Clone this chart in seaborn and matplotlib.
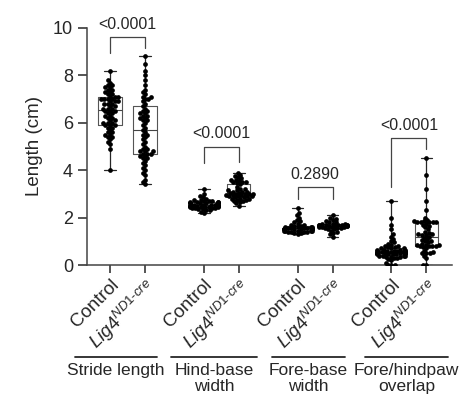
import numpy as np
import pandas as pd
import matplotlib
matplotlib.use("Agg")
import matplotlib.pyplot as plt
import matplotlib.transforms as mtransforms
import seaborn as sns

# ---------------- data ----------------
measures = ["Stride length", "Hind-base\nwidth", "Fore-base\nwidth", "Fore/hindpaw\noverlap"]
genotypes = ["Control", "Lig4"]
tick_labels = ["Control", r"$\mathit{Lig4}^{\mathit{ND1\text{-}cre}}$"] * 4
p_values = ["<0.0001", "<0.0001", "0.2890", "<0.0001"]

stride_ctrl = [4.0, 4.9, 5.1, 5.2, 5.3, 5.4, 5.4, 5.5, 5.5, 5.6, 5.6, 5.7, 5.8, 5.8, 5.9, 5.9, 5.9,
               6.0, 6.0, 6.0, 6.1, 6.1, 6.2, 6.2, 6.3, 6.3, 6.4, 6.4, 6.5, 6.5, 6.5, 6.6, 6.6, 6.6,
               6.7, 6.7, 6.8, 6.8, 6.8, 6.9, 6.9, 6.9, 7.0, 7.0, 7.0, 7.0, 7.1, 7.1, 7.1, 7.2, 7.2,
               7.3, 7.3, 7.4, 7.4, 7.5, 7.5, 7.6, 7.6, 7.7, 7.8, 8.2]
stride_lig4 = [3.4, 3.5, 3.6, 3.8, 3.9, 4.0, 4.1, 4.2, 4.3, 4.4, 4.5, 4.5, 4.6, 4.6, 4.7, 4.7, 4.7,
               4.8, 4.8, 4.8, 4.9, 4.9, 5.0, 5.1, 5.2, 5.3, 5.4, 5.5, 5.5, 5.6, 5.7, 5.8, 5.9, 6.0,
               6.1, 6.1, 6.2, 6.2, 6.3, 6.3, 6.4, 6.4, 6.5, 6.5, 6.6, 6.7, 6.8, 6.9, 7.0, 7.0, 7.1,
               7.1, 7.2, 7.3, 7.4, 7.6, 7.8, 8.0, 8.2, 8.5, 8.8]
hind_ctrl = [2.2, 2.25, 2.3, 2.3, 2.35, 2.35, 2.4, 2.4, 2.4, 2.4, 2.45, 2.45, 2.45, 2.45, 2.45,
             2.5, 2.5, 2.5, 2.5, 2.5, 2.5, 2.5, 2.55, 2.55, 2.55, 2.55, 2.55, 2.55, 2.6, 2.6, 2.6,
             2.6, 2.6, 2.6, 2.65, 2.65, 2.65, 2.65, 2.7, 2.7, 2.7, 2.75, 2.75, 2.8, 2.85, 2.9, 3.0, 3.2]
hind_lig4 = [2.5, 2.6, 2.65, 2.7, 2.7, 2.75, 2.75, 2.8, 2.8, 2.8, 2.85, 2.85, 2.9, 2.9, 2.9, 2.9,
             2.95, 2.95, 2.95, 3.0, 3.0, 3.0, 3.0, 3.05, 3.05, 3.1, 3.1, 3.1, 3.15, 3.15, 3.2, 3.2,
             3.3, 3.4, 3.45, 3.5, 3.5, 3.5, 3.55, 3.6, 3.6, 3.65, 3.7, 3.75, 3.8, 3.9]
fore_ctrl = [1.3, 1.35, 1.35, 1.4, 1.4, 1.4, 1.4, 1.45, 1.45, 1.45, 1.45, 1.45, 1.5, 1.5, 1.5, 1.5,
             1.5, 1.5, 1.5, 1.5, 1.55, 1.55, 1.55, 1.55, 1.55, 1.6, 1.6, 1.6, 1.6, 1.65, 1.65,
             1.7, 1.7, 1.75, 1.8, 1.85, 1.9, 2.0, 2.1, 2.2, 2.4]
fore_lig4 = [1.2, 1.3, 1.35, 1.4, 1.45, 1.5, 1.5, 1.55, 1.55, 1.55, 1.6, 1.6, 1.6, 1.6, 1.65, 1.65,
             1.65, 1.65, 1.65, 1.7, 1.7, 1.7, 1.7, 1.7, 1.7, 1.7, 1.75, 1.75, 1.75, 1.8, 1.8, 1.85,
             1.9, 1.95, 2.0, 2.1]
overlap_ctrl = [0.0, 0.0, 0.0, 0.1, 0.2, 0.25, 0.3, 0.3, 0.35, 0.35, 0.35, 0.4, 0.4, 0.4, 0.4,
                0.45, 0.45, 0.45, 0.45, 0.45, 0.5, 0.5, 0.5, 0.5, 0.5, 0.5, 0.5, 0.55, 0.55, 0.55,
                0.55, 0.55, 0.55, 0.6, 0.6, 0.6, 0.6, 0.6, 0.65, 0.65, 0.65, 0.65, 0.7, 0.7, 0.7,
                0.75, 0.75, 0.8, 0.8, 0.85, 0.9, 0.95, 1.0, 1.1, 1.2, 1.3, 1.5, 1.7, 2.0, 2.7]
overlap_lig4 = [0.0, 0.0, 0.3, 0.4, 0.5, 0.5, 0.5, 0.55, 0.6, 0.7, 0.75, 0.8, 0.8, 0.8, 0.8, 0.85,
                0.85, 0.85, 0.9, 0.95, 1.0, 1.0, 1.05, 1.1, 1.15, 1.2, 1.25, 1.25, 1.3, 1.3, 1.35,
                1.4, 1.5, 1.6, 1.65, 1.7, 1.75, 1.8, 1.8, 1.8, 1.8, 1.8, 1.85, 1.85, 1.9, 2.0, 2.3,
                2.7, 3.2, 3.8, 4.5]

series = [stride_ctrl, stride_lig4, hind_ctrl, hind_lig4,
          fore_ctrl, fore_lig4, overlap_ctrl, overlap_lig4]

# ---------------- layout ----------------
group_gap = 2.68
positions = []
for g in range(4):
    positions += [g * group_gap, g * group_gap + 1]

rows = []
for pos, vals in zip(positions, series):
    for v in vals:
        rows.append({"x": pos, "y": v})
df = pd.DataFrame(rows)

sns.set_style("ticks")
plt.rcParams["font.family"] = ["Liberation Sans", "DejaVu Sans"]
plt.rcParams["mathtext.fontset"] = "custom"
plt.rcParams["mathtext.rm"] = "Liberation Sans"
plt.rcParams["mathtext.it"] = "Liberation Sans:italic"

ink = "#262626"
fig = plt.figure(figsize=(4.69, 4.03), dpi=100)
ax = fig.add_axes([87 / 469, 1 - 265 / 403, (452 - 87) / 469, (265 - 28) / 403])

sns.boxplot(data=df, x="x", y="y", native_scale=True, width=0.66, whis=(0, 100),
            fill=False, color="#555555", linewidth=0.8, showfliers=False, ax=ax,
            medianprops=dict(color="#444444", linewidth=0.8),
            whiskerprops=dict(color=ink, linewidth=0.9),
            capprops=dict(color=ink, linewidth=0.9))
n_before = len(ax.collections)
sns.swarmplot(data=df, x="x", y="y", native_scale=True, color="black", size=2.35,
              linewidth=0, ax=ax)
swarms = ax.collections[n_before:]
for c in swarms:
    c.set_zorder(3)

ax.set_xlim(-0.657, 9.77)
ax.set_ylim(0, 10)
ax.set_yticks([0, 2, 4, 6, 8, 10])
ax.set_xticks(positions)
ax.set_xticklabels(tick_labels, rotation=45, ha="right", va="top",
                   rotation_mode="anchor", fontsize=13.5, color=ink)
offset = mtransforms.ScaledTranslation(5 / 100, 2 / 100, fig.dpi_scale_trans)
for lab in ax.get_xticklabels():
    lab.set_transform(lab.get_transform() + offset)
ax.tick_params(axis="y", labelsize=13, colors=ink, length=6.5, width=1.1)
ax.tick_params(axis="x", length=5.5, width=1.1, colors=ink, pad=2.5)
for lab in ax.get_xticklabels() + ax.get_yticklabels():
    lab.set_color(ink)
ax.set_xlabel("")
ax.set_ylabel("Length (cm)", fontsize=13.5, color=ink, labelpad=7)
for s in ["top", "right"]:
    ax.spines[s].set_visible(False)
for s in ["left", "bottom"]:
    ax.spines[s].set_linewidth(1.1)
    ax.spines[s].set_color("#444444")

# significance brackets
bracket_top = [9.6, 5.0, 3.3, 5.35]
leg_left = [8.95, 4.3, 2.8, 3.3]
leg_right = [9.15, 4.35, 2.8, 4.9]
for g in range(4):
    x0, x1 = positions[2 * g], positions[2 * g + 1]
    ax.plot([x0, x0, x1, x1], [leg_left[g], bracket_top[g], bracket_top[g], leg_right[g]],
            color="#444444", linewidth=0.9, clip_on=False)
    ax.text((x0 + x1) / 2, bracket_top[g] + 0.22, p_values[g], ha="center", va="bottom",
            fontsize=11.5, color=ink, clip_on=False)

# group labels under axis
trans = ax.get_xaxis_transform()
line_y = (265 - 357) / 237
group_extent = [(-1.0, 1.34), (1.74, 4.2), (4.63, 6.71), (7.29, 9.66)]
for g in range(4):
    a, b = group_extent[g]
    ax.plot([a, b], [line_y, line_y], transform=trans, color=ink, linewidth=1.3,
            clip_on=False)
    ax.text((a + b) / 2, line_y - 0.025, measures[g], transform=trans, ha="center",
            va="top", fontsize=12.5, color=ink, linespacing=1.05)

# lay the swarms out with a compact footprint, then draw the dots larger so they
# touch/overlap like the stacked dot columns of the original
fig.canvas.draw()
for c in swarms:
    if "draw" in c.__dict__:
        del c.__dict__["draw"]
    c.set_sizes([3.4 ** 2])

fig.savefig("out.png", dpi=100, facecolor="white")
